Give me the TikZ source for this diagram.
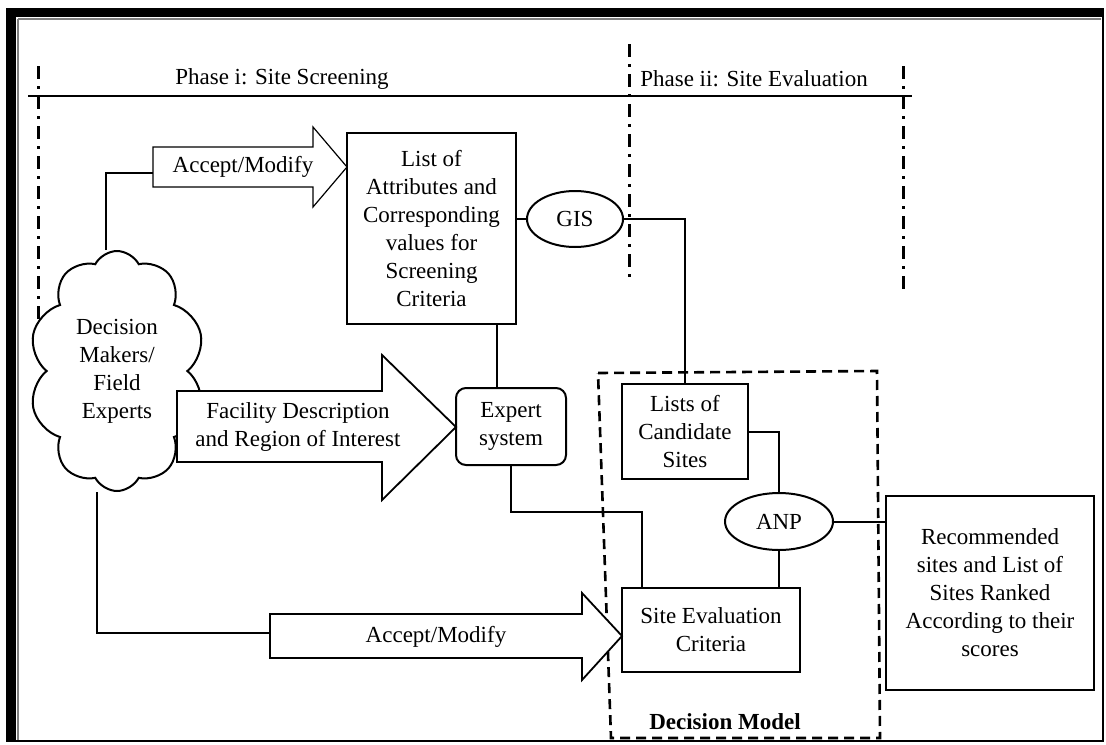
\documentclass[tikz,border=0pt]{standalone}
\usepackage{fontspec}
\setmainfont{Liberation Serif}
\usetikzlibrary{shapes.geometric,shapes.symbols}

\tikzset{
	box/.style={draw, line width=1pt, align=center, inner sep=1pt},
	oval/.style={draw, ellipse, line width=1pt, inner sep=0pt},
	conn/.style={line width=1pt},
	fatarrow/.style={draw, line width=0.9pt, fill=white},
	phaseline/.style={line width=1.5pt, dash pattern=on 6.5pt off 3.5pt on 1.5pt off 3.5pt}
}

\begin{document}
\begin{tikzpicture}[x=0.5pt, y=-0.5pt, font=\fontsize{11.5}{14}\selectfont]
		\useasboundingbox (0,0) rectangle (1106,744);
		% frame
		\fill (7,9) rectangle (1104,17);
		\fill (7,9) rectangle (16,742);
		\draw[line width=1pt] (7,9) rectangle (1103,741);
		\draw[gray, line width=0.6pt] (18,19) -- (1101,19);
		\draw[gray, line width=0.6pt] (18,19) -- (18,740);
		% phases
		\draw[line width=1pt] (28,96) -- (912,96);
		\node (phaseA) at (282,79) {Phase i: Site Screening};
		\node (phaseB) at (754,79) {Phase ii: Site Evaluation};
		\foreach \xa/\ya/\yb in {38/66/335, 629/44/280, 903/66/296}{
			\draw[phaseline] (\xa,\ya) -- (\xa,\yb);
		}
		% decision model
		\draw[line width=1.3pt, dash pattern=on 5pt off 3pt] (598,373) -- (877,371) -- (880,738) -- (611,738) -- cycle;
		\node[font=\fontsize{11.5}{14}\selectfont\bfseries] (dmLabel) at (725,722) {Decision Model};
		% nodes
		\node[box, minimum width=84.5pt, minimum height=95.5pt] (attrList) at (431.5,228.5)
			{List of\\Attributes and\\Corresponding\\values for\\Screening\\Criteria};
		\node[oval, minimum width=48pt, minimum height=28pt] (gis) at (575,219) {GIS};
		\node[box, rounded corners=5pt, minimum width=55pt, minimum height=38.5pt] (expert) at (511,426.5)
			{Expert\\system};
		\node[box, minimum width=63pt, minimum height=47.5pt] (candidates) at (685,431.5)
			{Lists of\\Candidate\\Sites};
		\node[oval, minimum width=54pt, minimum height=28.5pt] (anp) at (779,521.5) {ANP};
		\node[box, minimum width=89pt, minimum height=42pt] (siteEval) at (711,630)
			{Site Evaluation\\Criteria};
		\node[box, minimum width=104pt, minimum height=97pt] (ranked) at (990,593)
			{Recommended\\sites and List of\\Sites Ranked\\According to their\\scores};
		\node[draw, cloud, cloud puffs=10, cloud puff arc=125, aspect=0.73, line width=1pt, fill=white,
			minimum width=88pt, minimum height=120pt, inner sep=0pt, align=center] (experts) at (117,371)
			{Decision\\Makers/\\Field\\Experts};
		% fat arrows
		\draw[fatarrow, line width=0.6pt] (153,147) -- (313,147) -- (313,127) -- (347,167) -- (313,207) -- (313,187) -- (153,187) -- cycle;
		\node (acceptA) at (243,167) {Accept/Modify};
		\draw[fatarrow] (177,391) -- (382,391) -- (382,355) -- (456,427) -- (382,500) -- (382,462) -- (177,462) -- cycle;
		\node[align=center] (facility) at (298,427) {Facility Description\\and Region of Interest};
		\draw[fatarrow] (270,614) -- (582,614) -- (582,593) -- (622,636) -- (582,680) -- (582,658) -- (270,658) -- cycle;
		\node (acceptB) at (436,637) {Accept/Modify};
		\coordinate (tailA) at (153,173);
		\coordinate (tailB) at (270,633);
		% connectors
		\draw[conn] ([xshift=-5.5pt]experts.north) |- (tailA);
		\draw[conn] ([xshift=-10pt]experts.south) |- (tailB);
		\draw[conn] (gis.west) -- (gis.west -| attrList.east);
		\draw[conn] (gis.east) -| (candidates.north);
		\draw[conn] ([xshift=-7pt]expert.north) -- ([xshift=-7pt]expert.north |- attrList.south);
		\draw[conn] (expert.south) -- ++(0,46) -| ([xshift=10.5pt]siteEval.north west);
		\draw[conn] (candidates.east) -| (anp.north);
		\draw[conn] (anp.south) -- (anp.south |- siteEval.north);
		\draw[conn] (anp.east) -- (anp.east -| ranked.west);
	\end{tikzpicture}
\end{document}
